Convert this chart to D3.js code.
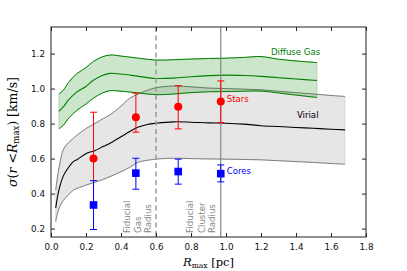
<!DOCTYPE html>
<html>
<head>
<meta charset="utf-8">
<script src="https://cdn.jsdelivr.net/npm/d3@7"></script>
<style>
  body { margin: 0; background: #fff; }
  svg { display: block; font-family: "DejaVu Sans", sans-serif; }
</style>
</head>
<body>
<svg id="chart" width="407" height="271"></svg>
<script>
// ---- data ----
var xTicks = [0.0, 0.2, 0.4, 0.6, 0.8, 1.0, 1.2, 1.4, 1.6, 1.8];
var yTicks = [0.2, 0.4, 0.6, 0.8, 1.0, 1.2];

// diffuse gas band
var gasR   = [0.045, 0.07, 0.1, 0.147, 0.2, 0.242, 0.29, 0.337, 0.4, 0.5, 0.6, 0.7, 0.8, 0.9, 1.0, 1.1, 1.2, 1.3, 1.4, 1.52];
var gasHi  = [0.97, 0.99, 1.035, 1.085, 1.12, 1.155, 1.18, 1.192, 1.186, 1.174, 1.163, 1.165, 1.169, 1.172, 1.174, 1.178, 1.183, 1.168, 1.158, 1.149];
var gasMid = [0.87, 0.895, 0.935, 0.98, 1.012, 1.048, 1.073, 1.087, 1.083, 1.07, 1.058, 1.06, 1.068, 1.074, 1.077, 1.075, 1.07, 1.062, 1.055, 1.046];
var gasLo  = [0.77, 0.79, 0.83, 0.875, 0.912, 0.945, 0.973, 0.988, 0.985, 0.975, 0.965, 0.969, 0.977, 0.982, 0.983, 0.985, 0.986, 0.975, 0.963, 0.949];

// virial band
var virR   = [0.027, 0.035, 0.05, 0.07, 0.09, 0.128, 0.15, 0.204, 0.25, 0.3, 0.337, 0.4, 0.45, 0.5, 0.55, 0.6, 0.7, 0.8, 0.9, 1.0, 1.1, 1.2, 1.3, 1.4, 1.5, 1.6, 1.68];
var virHi  = [0.42, 0.48, 0.57, 0.65, 0.68, 0.716, 0.735, 0.774, 0.80, 0.83, 0.85, 0.90, 0.945, 0.97, 0.99, 1.005, 1.015, 1.01, 1.003, 1.0, 0.997, 0.993, 0.985, 0.977, 0.969, 0.961, 0.955];
var virMid = [0.317, 0.37, 0.44, 0.50, 0.535, 0.583, 0.595, 0.631, 0.645, 0.67, 0.688, 0.725, 0.755, 0.78, 0.795, 0.802, 0.81, 0.808, 0.804, 0.802, 0.797, 0.788, 0.783, 0.778, 0.773, 0.768, 0.764];
var virLo  = [0.24, 0.28, 0.326, 0.36, 0.383, 0.42, 0.43, 0.45, 0.465, 0.482, 0.497, 0.525, 0.55, 0.58, 0.59, 0.597, 0.602, 0.600, 0.598, 0.597, 0.595, 0.593, 0.588, 0.583, 0.578, 0.572, 0.568];

// stars and cores
var pointR = [0.243, 0.485, 0.727, 0.97];
var starV  = [0.60, 0.837, 0.897, 0.926];
var starLo = [0.335, 0.751, 0.770, 0.806];
var starHi = [0.865, 0.974, 1.017, 1.044];
var coreV  = [0.335, 0.517, 0.526, 0.514];
var coreLo = [0.195, 0.425, 0.454, 0.467];
var coreHi = [0.474, 0.602, 0.597, 0.564];

var gasRadius = 0.6, clusterRadius = 0.97;

// ---- layout ----
var margin = {top: 27, right: 41, bottom: 34, left: 51},
    width = 407 - margin.left - margin.right,
    height = 271 - margin.top - margin.bottom;

var svg = d3.select("#chart");
var g = svg.append("g").attr("transform", "translate(" + margin.left + "," + margin.top + ")");

var x = d3.scaleLinear().domain([0, 1.8]).range([0, width]);
var y = d3.scaleLinear().domain([0.152, 1.352]).range([height, 0]);

var clip = g.append("clipPath").attr("id", "clip")
  .append("rect").attr("width", width).attr("height", height);
var plot = g.append("g").attr("clip-path", "url(#clip)");

//build [r, lo, mid, hi] rows for the bands
var rows = function(r, lo, mid, hi){
  return r.map(function(d, i){ return {r: d, lo: lo[i], mid: mid[i], hi: hi[i]}; });
};
var virRows = rows(virR, virLo, virMid, virHi),
    gasRows = rows(gasR, gasLo, gasMid, gasHi);

var curve = d3.curveCatmullRom.alpha(0.5);
var area = d3.area().curve(curve)
  .x(function(d){ return x(d.r); })
  .y0(function(d){ return y(d.lo); })
  .y1(function(d){ return y(d.hi); });
var lineOf = function(key){
  return d3.line().curve(curve)
    .x(function(d){ return x(d.r); })
    .y(function(d){ return y(d[key]); });
};

var drawBand = function(data, fill, edge, midColor){
  plot.append("path").datum(data).attr("d", area)
    .attr("fill", fill).attr("stroke", edge).attr("stroke-width", 0.6).attr("stroke-opacity", 0.35);
  ["lo", "hi"].forEach(function(k){
    plot.append("path").datum(data).attr("d", lineOf(k))
      .attr("fill", "none").attr("stroke", edge).attr("stroke-width", 1);
  });
  plot.append("path").datum(data).attr("d", lineOf("mid"))
    .attr("fill", "none").attr("stroke", midColor).attr("stroke-width", 1.1);
};

drawBand(virRows, "rgba(128,128,128,0.2)", "#808080", "#000");
drawBand(gasRows, "rgba(0,128,0,0.2)", "#008000", "#008000");

//radius markers
plot.append("line")
  .attr("x1", x(gasRadius)).attr("x2", x(gasRadius))
  .attr("y1", 0).attr("y2", height)
  .attr("stroke", "#999").attr("stroke-width", 1.5).attr("stroke-dasharray", "5,3.5");
plot.append("line")
  .attr("x1", x(clusterRadius)).attr("x2", x(clusterRadius))
  .attr("y1", 0).attr("y2", height)
  .attr("stroke", "#888").attr("stroke-width", 1.2);

//rotated radius labels
var radLabel = function(lines, xs){
  lines.forEach(function(t, i){
    g.append("text")
      .attr("transform", "translate(" + (x(xs[i]) + 3) + "," + y(0.175) + ") rotate(-90)")
      .attr("fill", "#888").attr("font-size", 8.6)
      .text(t);
  });
};
radLabel(["Fiducial", "Gas", "Radius"], [0.437, 0.497, 0.556]);
radLabel(["Fiducial", "Cluster", "Radius"], [0.794, 0.861, 0.918]);

//error bars with markers
var errBars = function(vals, lo, hi, color){
  pointR.forEach(function(r, i){
    var cx = x(r);
    g.append("line").attr("x1", cx).attr("x2", cx)
      .attr("y1", y(lo[i])).attr("y2", y(hi[i]))
      .attr("stroke", color).attr("stroke-width", 1);
    [lo[i], hi[i]].forEach(function(v){
      g.append("line").attr("x1", cx - 3.5).attr("x2", cx + 3.5)
        .attr("y1", y(v)).attr("y2", y(v))
        .attr("stroke", color).attr("stroke-width", 1);
    });
  });
};
errBars(starV, starLo, starHi, "#ff0000");
errBars(coreV, coreLo, coreHi, "#0000ff");

g.selectAll(".star").data(pointR).enter().append("circle")
  .attr("cx", function(d){ return x(d); })
  .attr("cy", function(d, i){ return y(starV[i]); })
  .attr("r", 4).attr("fill", "#ff0000");
g.selectAll(".core").data(pointR).enter().append("rect")
  .attr("x", function(d){ return x(d) - 3.8; })
  .attr("y", function(d, i){ return y(coreV[i]) - 3.8; })
  .attr("width", 7.6).attr("height", 7.6).attr("fill", "#0000ff");

//series labels
g.append("text").attr("x", x(1.257)).attr("y", y(1.19)).attr("fill", "#008000")
  .attr("font-size", 8.6).text("Diffuse Gas");
g.append("text").attr("x", x(1.405)).attr("y", y(0.83)).attr("fill", "#000")
  .attr("font-size", 8.6).text("Virial");
g.append("text").attr("x", x(1.004)).attr("y", y(0.925)).attr("fill", "#ff0000")
  .attr("font-size", 8.6).text("Stars");
g.append("text").attr("x", x(1.004)).attr("y", y(0.51)).attr("fill", "#0000ff")
  .attr("font-size", 8.6).text("Cores");

//axes
var tickFmt = d3.format(".1f");
var axB = g.append("g").attr("transform", "translate(0," + height + ")")
  .call(d3.axisBottom(x).tickValues(xTicks).tickFormat(tickFmt).tickSizeInner(-4).tickSizeOuter(0).tickPadding(7));
var axT = g.append("g")
  .call(d3.axisTop(x).tickValues(xTicks).tickFormat("").tickSizeInner(-4).tickSizeOuter(0));
var axL = g.append("g")
  .call(d3.axisLeft(y).tickValues(yTicks).tickFormat(tickFmt).tickSizeInner(-4).tickSizeOuter(0).tickPadding(6));
var axR = g.append("g").attr("transform", "translate(" + width + ",0)")
  .call(d3.axisRight(y).tickValues(yTicks).tickFormat("").tickSizeInner(-4).tickSizeOuter(0));
[axB, axT, axL, axR].forEach(function(a){
  a.select(".domain").remove();
  a.selectAll("line").attr("stroke", "#222");
  a.selectAll("text").attr("font-size", 8.8).attr("fill", "#111")
    .attr("font-family", "DejaVu Sans, sans-serif");
});

g.append("rect").attr("width", width).attr("height", height)
  .attr("fill", "none").attr("stroke", "#222").attr("stroke-width", 1);

//axis titles, math style
var xt = svg.append("text").attr("x", margin.left + width / 2).attr("y", 266)
  .attr("text-anchor", "middle").attr("font-family", "DejaVu Serif, serif").attr("font-size", 11.5);
xt.append("tspan").attr("font-style", "italic").text("R");
xt.append("tspan").attr("font-size", 7.5).attr("dy", 2).text("max");
xt.append("tspan").attr("dy", -2).text(" [pc]");

var yt = svg.append("text").attr("transform", "translate(17," + (margin.top + height / 2) + ") rotate(-90)")
  .attr("text-anchor", "middle").attr("font-family", "DejaVu Serif, serif").attr("font-size", 12.5);
yt.append("tspan").attr("font-style", "italic").text("σ");
yt.append("tspan").text("(");
yt.append("tspan").attr("font-style", "italic").text("r");
yt.append("tspan").text(" <");
yt.append("tspan").attr("font-style", "italic").text("R");
yt.append("tspan").attr("font-size", 8.5).attr("dy", 2).text("max");
yt.append("tspan").attr("dy", -2).text(") [km/s]");
</script>
</body>
</html>
